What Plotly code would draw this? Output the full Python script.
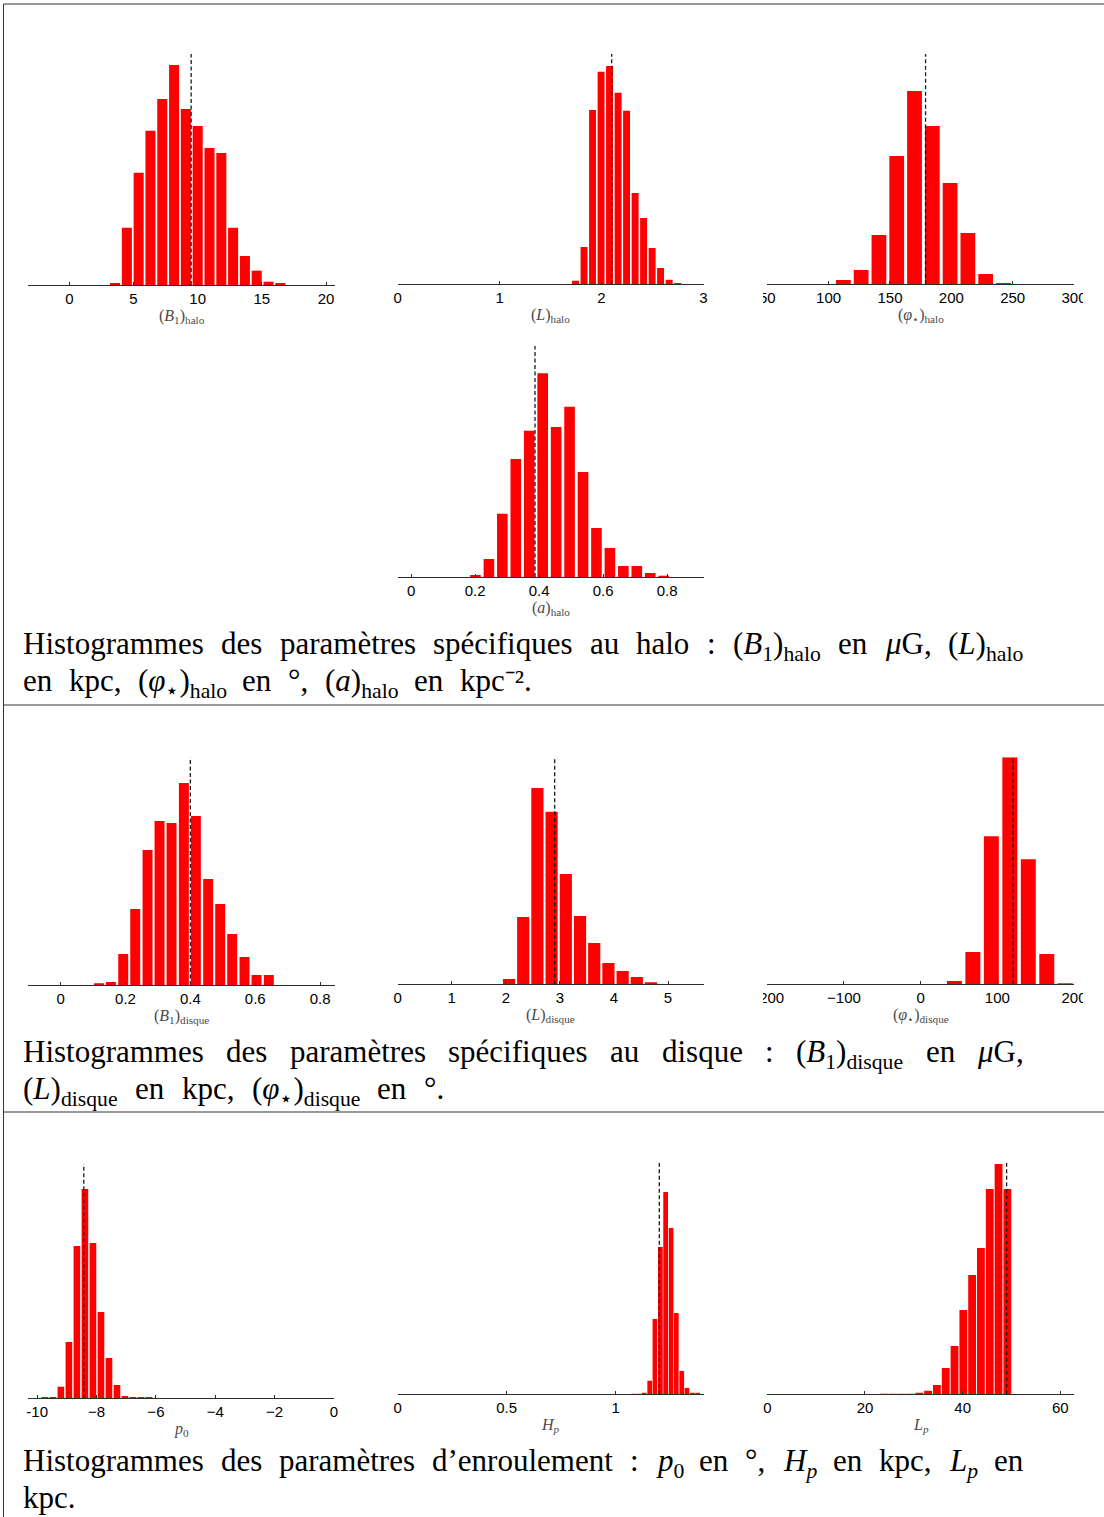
import re
import plotly.graph_objects as go

W, H = 1104, 1517

# ---------------- data (bin centres, counts, reference value) ----------------
b1_halo_x = [3.56, 4.48, 5.40, 6.32, 7.24, 8.16, 9.08, 10.00, 10.92, 11.84, 12.76, 13.68, 14.60, 15.52, 16.44]
b1_halo_n = [6, 172, 337, 463, 558, 660, 528, 477, 411, 396, 172, 87, 43, 10, 4]
b1_halo_ref = 9.49

l_halo_x = [1.745, 1.829, 1.912, 1.996, 2.079, 2.163, 2.246, 2.330, 2.413, 2.497, 2.580, 2.664, 2.747]
l_halo_n = [11, 112, 523, 638, 655, 575, 521, 274, 199, 109, 49, 14, 1]
l_halo_ref = 2.10

phi_halo_x = [112.0, 126.5, 141.0, 155.5, 170.0, 184.5, 199.0, 213.5, 228.0, 242.5]
phi_halo_n = [13, 43, 148, 385, 580, 475, 304, 154, 31, 4]
phi_halo_ref = 179.0

a_halo_x = [0.201, 0.243, 0.285, 0.327, 0.369, 0.411, 0.453, 0.495, 0.537, 0.579, 0.621, 0.663, 0.705, 0.747, 0.789]
a_halo_n = [6, 54, 190, 354, 439, 611, 450, 511, 315, 147, 87, 33, 33, 12, 1]
a_halo_ref = 0.387

b1_disk_x = [0.118, 0.155, 0.193, 0.230, 0.268, 0.305, 0.342, 0.380, 0.417, 0.455, 0.492, 0.529, 0.567, 0.604, 0.642]
b1_disk_n = [3, 9, 93, 228, 405, 492, 486, 606, 507, 318, 243, 153, 84, 30, 30]
b1_disk_ref = 0.40

l_disk_x = [2.059, 2.322, 2.584, 2.847, 3.110, 3.373, 3.635, 3.898, 4.161, 4.423, 4.686]
l_disk_n = [16, 202, 589, 518, 331, 205, 124, 64, 40, 22, 4]
l_disk_ref = 2.904

phi_disk_x = [44.0, 68.1, 92.2, 116.3, 140.4, 164.5, 188.6]
phi_disk_n = [10, 97, 445, 682, 376, 91, 1]
phi_disk_ref = 120.6

p0_x = [-9.742, -9.472, -9.202, -8.932, -8.662, -8.392, -8.122, -7.852, -7.582, -7.312, -7.042, -6.772, -6.502, -6.232]
p0_n = [1, 2, 35, 169, 457, 628, 466, 259, 121, 40, 7, 4, 1, 1]
p0_ref = -8.43

hp_x = [1.082, 1.107, 1.131, 1.156, 1.180, 1.205, 1.229, 1.254, 1.278, 1.303, 1.327, 1.352, 1.376]
hp_n = [1, 1, 2, 41, 226, 442, 607, 499, 244, 70, 19, 4, 2]
hp_ref = 1.200

lp_x = [23.92, 25.72, 27.53, 29.33, 31.13, 32.93, 34.73, 36.54, 38.34, 40.14, 41.94, 43.74, 45.55, 47.35, 49.15]
lp_n = [1, 1, 1, 1, 2, 11, 28, 79, 145, 253, 358, 439, 616, 691, 616]
lp_ref = 49.0

# tick values and labels
ticks_b1_halo = [0, 5, 10, 15, 20]
ticks_l_halo = [0, 1, 2, 3]
ticks_phi_halo = [50, 100, 150, 200, 250, 300]
ticks_a_halo = [0, 0.2, 0.4, 0.6, 0.8]
ticks_b1_disk = [0, 0.2, 0.4, 0.6, 0.8]
ticks_l_disk = [0, 1, 2, 3, 4, 5]
ticks_phi_disk = [-200, -100, 0, 100, 200]
ticks_p0 = [-10, -8, -6, -4, -2, 0]
ticks_hp = [0, 0.5, 1]
ticks_lp = [0, 20, 40, 60]

labels_b1_halo = ["0", "5", "10", "15", "20"]
labels_l_halo = ["0", "1", "2", "3"]
labels_phi_halo = ["50", "100", "150", "200", "250", "300"]
labels_a_halo = ["0", "0.2", "0.4", "0.6", "0.8"]
labels_b1_disk = ["0", "0.2", "0.4", "0.6", "0.8"]
labels_l_disk = ["0", "1", "2", "3", "4", "5"]
labels_phi_disk = ["\u2212200", "\u2212100", "0", "100", "200"]
labels_p0 = ["-10", "\u22128", "\u22126", "\u22124", "\u22122", "0"]
labels_hp = ["0", "0.5", "1"]
labels_lp = ["0", "20", "40", "60"]

titles = [
    "(<i>B</i><sub>1</sub>)<sub>halo</sub>",
    "(<i>L</i>)<sub>halo</sub>",
    "(<i>\u03c6</i><sub>\u22c6</sub>)<sub>halo</sub>",
    "(<i>a</i>)<sub>halo</sub>",
    "(<i>B</i><sub>1</sub>)<sub>disque</sub>",
    "(<i>L</i>)<sub>disque</sub>",
    "(<i>\u03c6</i><sub>\u22c6</sub>)<sub>disque</sub>",
    "<i>p</i><sub>0</sub>",
    "<i>H</i><sub><i>p</i></sub>",
    "<i>L</i><sub><i>p</i></sub>",
]

# caption lines: (words, baseline y px, right end of the line in px or None)
caption_lines = [
    (["Histogrammes", "des", "paramètres", "spécifiques", "au", "halo", ":",
      "(<i>B</i><sub>1</sub>)<sub>halo</sub>", "en", "<i>\u03bc</i>G,", "(<i>L</i>)<sub>halo</sub>"], 654, 1022),
    (["en", "kpc,", "(<i>\u03c6</i><sub>\u22c6</sub>)<sub>halo</sub>", "en", "°,",
      "(<i>a</i>)<sub>halo</sub>", "en", "kpc\u207b\u00b2."], 691, 537),
    (["Histogrammes", "des", "paramètres", "spécifiques", "au", "disque", ":",
      "(<i>B</i><sub>1</sub>)<sub>disque</sub>", "en", "<i>\u03bc</i>G,"], 1062, 1022),
    (["(<i>L</i>)<sub>disque</sub>", "en", "kpc,", "(<i>\u03c6</i><sub>\u22c6</sub>)<sub>disque</sub>",
      "en", "°."], 1099, 443),
    (["Histogrammes", "des", "paramètres", "d\u2019enroulement", ":", "<i>p</i><sub>0</sub>", "en", "°,",
      "<i>H</i><sub><i>p</i></sub>", "en", "kpc,", "<i>L</i><sub><i>p</i></sub>", "en"], 1471, 1022),
    (["kpc."], 1508, None),
]

# approximate glyph advance widths (Times-like, per 1000 em) used to justify the caption lines
REG = {' ': 250, '(': 333, ')': 333, ',': 250, '.': 250, ':': 278, '\u2019': 333, '°': 400,
       '0': 500, '1': 500, '2': 500, 'H': 722, 'G': 722, 'B': 667, 'L': 611,
       'a': 444, 'b': 500, 'c': 444, 'd': 500, 'e': 444, 'f': 333, 'g': 500, 'h': 500, 'i': 278,
       'j': 278, 'k': 500, 'l': 278, 'm': 778, 'n': 500, 'o': 500, 'p': 500, 'q': 500, 'r': 333,
       's': 389, 't': 278, 'u': 500, 'v': 500, 'w': 722, 'x': 500, 'y': 500, 'z': 444,
       'è': 444, 'é': 444, '\u03bc': 500, '\u03c6': 560, '\u22c6': 600, '\u207b': 520, '\u00b2': 300}
ITAL = {'B': 611, 'L': 556, 'H': 722, 'p': 500, 'a': 500}


def text_width(html, fs):
    w, italic, sub = 0.0, False, False
    for tok in re.split(r"(<[^>]+>)", html):
        if not tok:
            continue
        if tok.startswith("<"):
            t = tok.lower()
            italic = True if t == "<i>" else False if t == "</i>" else italic
            sub = True if t == "<sub>" else False if t == "</sub>" else sub
            continue
        sc = 0.7 if sub else 1.0
        for ch in tok:
            cw = ITAL.get(ch) if (italic and ch in ITAL) else REG.get(ch, 500)
            w += cw / 1000.0 * fs * sc
    return w


panels = [
    dict(x=b1_halo_x, n=b1_halo_n, ref=b1_halo_ref, tv=ticks_b1_halo, tt=labels_b1_halo,
         px=(28.3, 335), base=285, top=54, ymax=693, rng=(-3.2, 20.7), frac=0.85),
    dict(x=l_halo_x, n=l_halo_n, ref=l_halo_ref, tv=ticks_l_halo, tt=labels_l_halo,
         px=(397.7, 704), base=284.3, top=54, ymax=691, rng=(0, 3.006), frac=0.82),
    dict(x=phi_halo_x, n=phi_halo_n, ref=phi_halo_ref, tv=ticks_phi_halo, tt=labels_phi_halo,
         px=(767.3, 1074), base=284.3, top=54, ymax=691, rng=(50, 300), frac=0.83),
    dict(x=a_halo_x, n=a_halo_n, ref=a_halo_ref, tv=ticks_a_halo, tt=labels_a_halo,
         px=(397.7, 704), base=577, top=345.7, ymax=694, rng=(-0.042, 0.915), frac=0.79),
    dict(x=b1_disk_x, n=b1_disk_n, ref=b1_disk_ref, tv=ticks_b1_disk, tt=labels_b1_disk,
         px=(28.3, 335), base=985, top=757.3, ymax=683, rng=(-0.0997, 0.846), frac=0.83),
    dict(x=l_disk_x, n=l_disk_n, ref=l_disk_ref, tv=ticks_l_disk, tt=labels_l_disk,
         px=(397.7, 704), base=984.3, top=757.3, ymax=681, rng=(0, 5.666), frac=0.86),
    dict(x=phi_disk_x, n=phi_disk_n, ref=phi_disk_ref, tv=ticks_phi_disk, tt=labels_phi_disk,
         px=(767.3, 1074), base=984.3, top=757.3, ymax=682, rng=(-200, 200), frac=0.81),
    dict(x=p0_x, n=p0_n, ref=p0_ref, tv=ticks_p0, tt=labels_p0,
         px=(28.3, 334), base=1398.3, top=1164, ymax=703, rng=(-10.3, 0), frac=0.83),
    dict(x=hp_x, n=hp_n, ref=hp_ref, tv=ticks_hp, tt=labels_hp,
         px=(397.7, 704), base=1394.3, top=1162.7, ymax=695, rng=(0, 1.405), frac=0.9),
    dict(x=lp_x, n=lp_n, ref=lp_ref, tv=ticks_lp, tt=labels_lp,
         px=(767.3, 1074), base=1394.3, top=1162.7, ymax=695, rng=(0, 62.8), frac=0.89),
]

fig = go.Figure()
layout = {}
annotations = []
AX_COLOR = "#2b2b2b"

for i, p in enumerate(panels, start=1):
    xa = "x" if i == 1 else f"x{i}"
    ya = "y" if i == 1 else f"y{i}"
    xs = p["x"]
    step = min(b - a for a, b in zip(xs[:-1], xs[1:]))
    fig.add_trace(go.Bar(
        x=xs, y=p["n"], width=[step * p["frac"]] * len(xs),
        marker=dict(color="#ff0000", line=dict(width=0)),
        xaxis=xa, yaxis=ya, showlegend=False, hoverinfo="skip"))
    fig.add_trace(go.Scatter(
        x=[p["ref"], p["ref"]], y=[0, p["ymax"]], mode="lines",
        line=dict(color="#1a1a1a", width=1.3, dash="4px,2.5px"),
        xaxis=xa, yaxis=ya, showlegend=False, hoverinfo="skip"))
    layout["xaxis" if i == 1 else f"xaxis{i}"] = dict(
        domain=[p["px"][0] / W, p["px"][1] / W], range=list(p["rng"]), anchor=ya,
        tickmode="array", tickvals=p["tv"], ticktext=p["tt"],
        ticks="inside", ticklen=3, tickwidth=1, tickcolor=AX_COLOR,
        showline=True, linecolor=AX_COLOR, linewidth=1.3,
        showgrid=False, zeroline=False, fixedrange=True, automargin=False,
        tickfont=dict(family="Liberation Sans, Arial, sans-serif", size=15, color="black"),
        ticklabelstandoff=0,
    )
    layout["yaxis" if i == 1 else f"yaxis{i}"] = dict(
        domain=[1 - p["base"] / H, 1 - p["top"] / H], range=[0, p["ymax"]],
        anchor=xa, visible=False, fixedrange=True, automargin=False)
    annotations.append(dict(
        x=(p["px"][0] + p["px"][1]) / 2 / W, y=1 - (p["base"] + 31) / H,
        xref="paper", yref="paper", text=titles[i - 1], showarrow=False,
        xanchor="center", yanchor="middle",
        font=dict(family="Liberation Serif, serif", size=16, color="#4a4a4a")))

# captions: words placed one by one, with equal inter-word gaps (justified lines)
FS = 31
SPACE = 0.333 * FS
X_LEFT = 22
for words, baseline, x_right in caption_lines:
    widths = [text_width(w, FS) for w in words]
    if x_right is not None and len(words) > 1:
        gap = (x_right - X_LEFT - sum(widths)) / (len(words) - 1)
    else:
        gap = SPACE
    lefts, x = [], X_LEFT
    for wd in widths:
        lefts.append(x)
        x += wd + gap
    y_top = baseline - 0.891 * FS - 1
    for w, l in zip(words, lefts):
        annotations.append(dict(
            x=l / W, y=1 - y_top / H, xref="paper", yref="paper", text=w, showarrow=False,
            xanchor="left", yanchor="top", align="left", borderpad=0,
            font=dict(family="Liberation Serif, serif", size=FS, color="black")))

shapes = []
LINE = dict(color="#333333", width=1)
shapes.append(dict(type="line", xref="paper", yref="paper", x0=3.5 / W, x1=1, y0=1 - 4 / H, y1=1 - 4 / H, line=LINE))
shapes.append(dict(type="line", xref="paper", yref="paper", x0=3.5 / W, x1=3.5 / W, y0=0, y1=1 - 4 / H, line=LINE))
for yy in (705, 1112):
    shapes.append(dict(type="line", xref="paper", yref="paper", x0=3.5 / W, x1=1, y0=1 - yy / H, y1=1 - yy / H, line=LINE))
# outermost tick labels of the right column are cut by the sub-figure bounds
for base in (284.3, 984.3):
    for xa0, xa1 in ((740, 763), (1083, 1104)):
        shapes.append(dict(type="rect", xref="paper", yref="paper", layer="above",
                           x0=xa0 / W, x1=xa1 / W, y0=1 - (base + 22) / H, y1=1 - (base + 4) / H,
                           fillcolor="white", line=dict(width=0)))

fig.update_layout(
    width=W, height=H, margin=dict(l=0, r=0, t=0, b=0, pad=0, autoexpand=False),
    paper_bgcolor="white", plot_bgcolor="rgba(0,0,0,0)",
    showlegend=False, annotations=annotations, shapes=shapes, **layout)

fig.write_html(
    "out.html", config={"displayModeBar": False},
    post_script="document.documentElement.style.margin='0';document.body.style.margin='0';"
                "document.body.style.overflow='hidden';document.documentElement.style.overflow='hidden';")
